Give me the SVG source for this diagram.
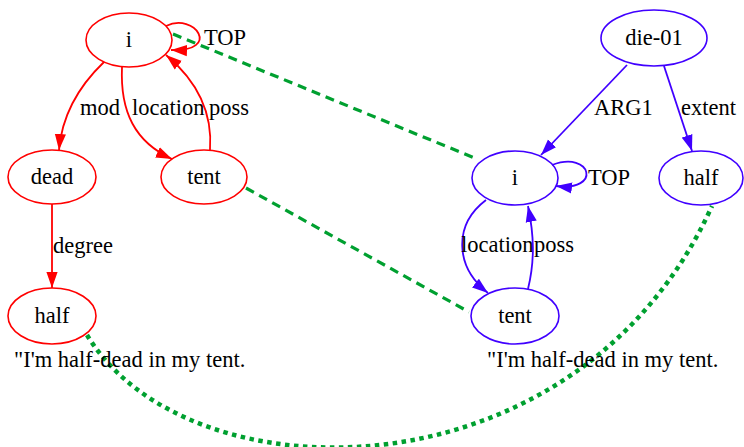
<svg xmlns="http://www.w3.org/2000/svg" width="744" height="447" viewBox="0 0 744 447">
<defs>
<style>
text{font-family:'Liberation Serif',Tinos,'DejaVu Serif',serif;font-size:22.5px;fill:#000}
.c{text-anchor:middle}
.r ellipse{fill:none;stroke:#ff0000;stroke-width:1.6}
.b ellipse{fill:none;stroke:#4000ff;stroke-width:1.6}
.er{fill:none;stroke:#ff0000;stroke-width:1.8;marker-end:url(#ar)}
.eb{fill:none;stroke:#4000ff;stroke-width:1.8;marker-end:url(#ab)}
.dash{fill:none;stroke:#00a030;stroke-width:3.2;stroke-dasharray:9 6}
.dot{fill:none;stroke:#00a030;stroke-width:4.5;stroke-dasharray:4.5 4.5}
</style>
<marker id="ar" markerUnits="userSpaceOnUse" markerWidth="16" markerHeight="12" refX="16" refY="6" orient="auto"><path d="M0,0.4 L16,6 L0,11.6 z" fill="#ff0000"/></marker>
<marker id="ab" markerUnits="userSpaceOnUse" markerWidth="16" markerHeight="12" refX="16" refY="6" orient="auto"><path d="M0,0.4 L16,6 L0,11.6 z" fill="#4000ff"/></marker>
</defs>
<rect width="744" height="447" fill="#fff"/>
<g id="connectors">
<path class="er" d="M166 26 C195 12 222 52 171 50"/>
<text x="204" y="45">TOP</text>
<path class="er" d="M104 62 C80 85 62 115 59 150"/>
<text x="80" y="115">mod</text>
<path class="er" d="M122 67 C120 112 135 142 172 159"/>
<text x="132" y="115">location</text>
<path class="er" d="M210 150 C213 110 196 80 166 55"/>
<text x="209" y="115">poss</text>
<path class="er" d="M52 204 L52 288"/>
<text x="53" y="253">degree</text>
<path class="eb" d="M627 65 L541 155"/>
<text x="594" y="115">ARG1</text>
<path class="eb" d="M664 66 L692 151"/>
<text x="681" y="115">extent</text>
<path class="eb" d="M552 165 C592 150 602 192 556 186"/>
<text x="588" y="185">TOP</text>
<path class="eb" d="M486 200 C453 225 455 267 488 293"/>
<text x="461" y="252">location</text>
<path class="eb" d="M528 289 C535 260 534 235 528 206"/>
<text x="534" y="252">poss</text>
<path class="dash" d="M173 34 L477 159"/>
<path class="dash" d="M246 188 L469 312"/>
<path class="dot" d="M87 335 C188 502 578 502 712 206"/>
</g>
<g id="n_i1" class="r"><ellipse cx="129" cy="40" rx="43" ry="27"/><text class="c" x="129" y="47">i</text></g>
<g id="n_dead" class="r"><ellipse cx="52" cy="177" rx="44" ry="27"/><text class="c" x="52" y="184">dead</text></g>
<g id="n_tent1" class="r"><ellipse cx="204" cy="177" rx="43" ry="27"/><text class="c" x="204" y="184">tent</text></g>
<g id="n_half1" class="r"><ellipse cx="52" cy="316" rx="44" ry="28"/><text class="c" x="52" y="323">half</text></g>
<g id="n_die" class="b"><ellipse cx="654" cy="38" rx="53" ry="28"/><text class="c" x="654" y="45">die-01</text></g>
<g id="n_i2" class="b"><ellipse cx="515" cy="178" rx="43" ry="27"/><text class="c" x="515" y="185">i</text></g>
<g id="n_half2" class="b"><ellipse cx="701" cy="178" rx="42" ry="27"/><text class="c" x="701" y="185">half</text></g>
<g id="n_tent2" class="b"><ellipse cx="515" cy="316" rx="44" ry="28"/><text class="c" x="515" y="323">tent</text></g>
<text x="14" y="367">"I'm half-dead in my tent.</text>
<text x="487" y="367">"I'm half-dead in my tent.</text>
</svg>
